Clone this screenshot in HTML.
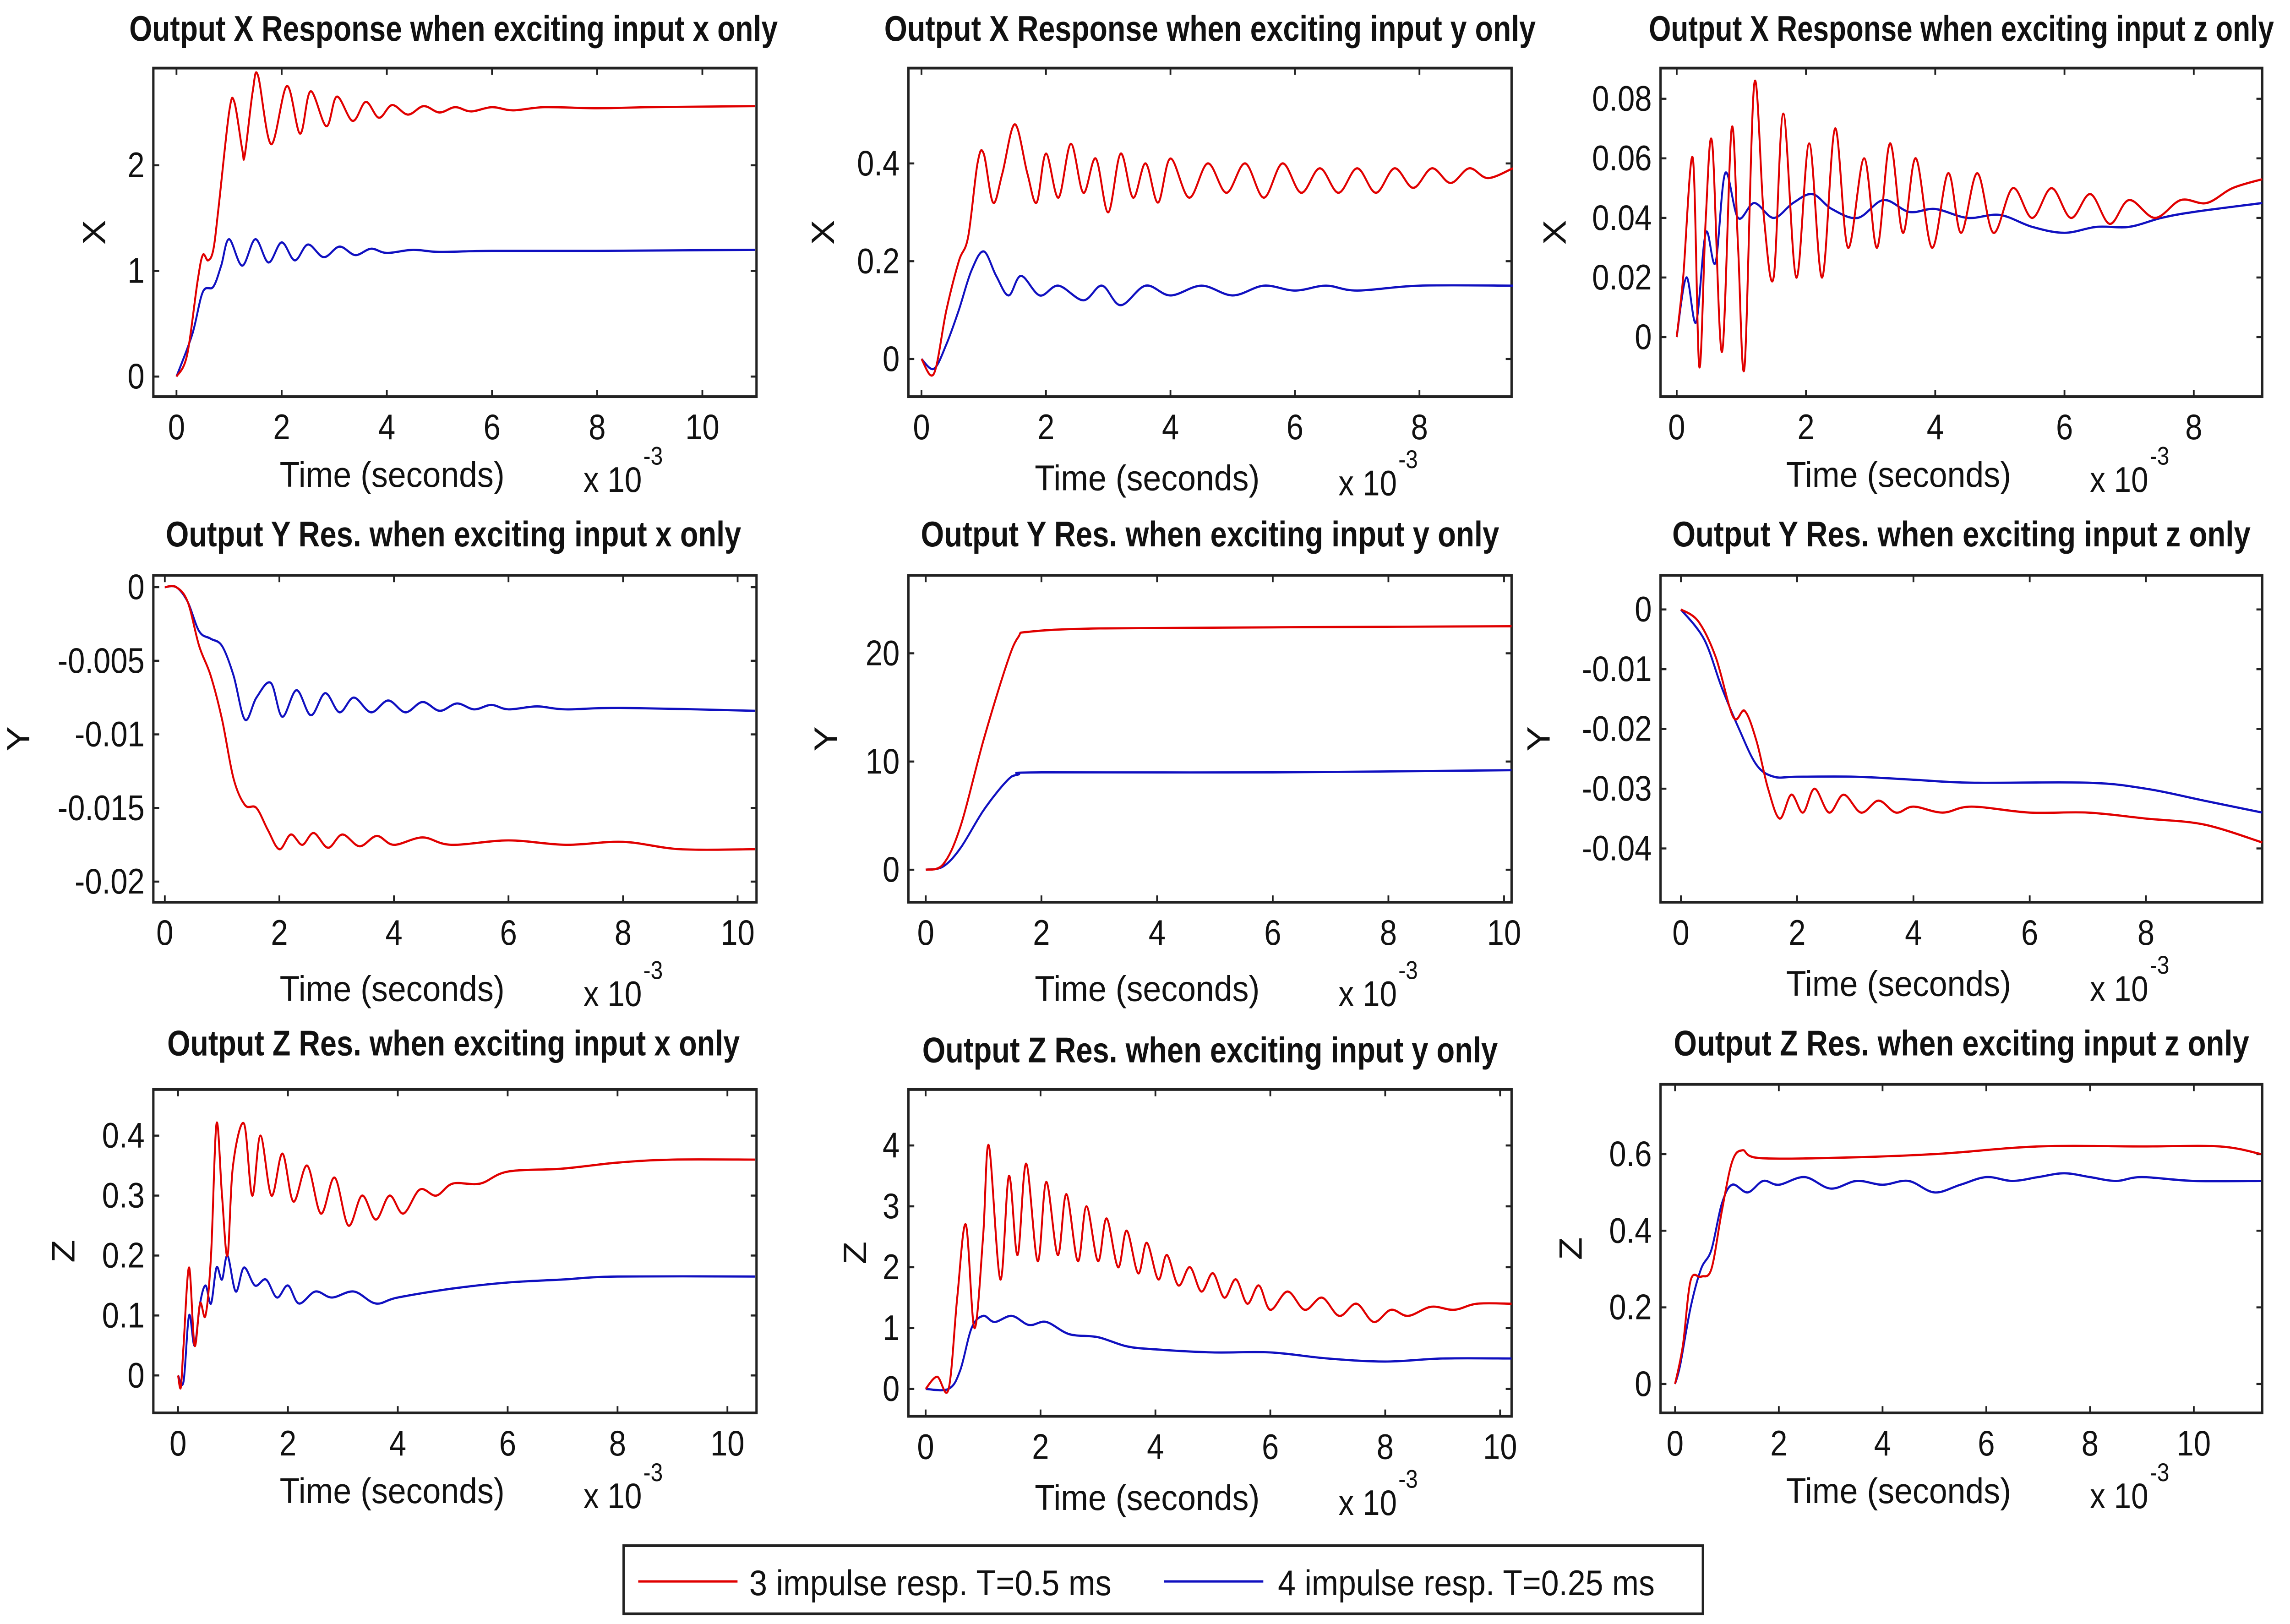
<!DOCTYPE html>
<html><head><meta charset="utf-8"><style>
html,body{margin:0;padding:0;background:#fff;width:100%;height:100%;overflow:hidden;}
svg{display:block;position:fixed;left:0;top:0;width:100vw;height:100vh;}
text{font-family:"Liberation Sans",sans-serif;fill:#111;}
</style></head><body>
<svg id="fig" xmlns="http://www.w3.org/2000/svg" viewBox="0 0 1568 954" preserveAspectRatio="none">
<rect x="0" y="0" width="1568" height="954" fill="#fff"/>
<g id="plots"></g>
<g>
<rect x="427" y="908" width="739" height="40" fill="#fff" stroke="#222" stroke-width="1.6"/>
<line x1="437" y1="929" x2="505" y2="929" stroke="#e00000" stroke-width="1.4"/>
<text x="513" y="937" font-size="21" textLength="248" lengthAdjust="spacingAndGlyphs">3 impulse resp. T=0.5 ms</text>
<line x1="797" y1="929" x2="865" y2="929" stroke="#1010c0" stroke-width="1.4"/>
<text x="875" y="937" font-size="21" textLength="258" lengthAdjust="spacingAndGlyphs">4 impulse resp. T=0.25 ms</text>
</g>
</svg>
<script>
const titles = ["Output X Response when exciting input x only","Output X Response when exciting input y only","Output X Response when exciting input z only",
"Output Y Res. when exciting input  x only","Output Y Res. when exciting input  y only","Output Y Res. when exciting input  z only",
"Output Z Res. when exciting input  x only","Output Z Res. when exciting input  y only","Output Z Res. when exciting input  z only"];
const yLabels = ["X","X","X","Y","Y","Y","Z","Z","Z"];
const xRanges = [[-0.44,11.03],[-0.21,9.48],[-0.25,9.06],[-0.2,10.33],[-0.3,10.13],[-0.35,10.0],[-0.45,10.53],[-0.3,10.2],[-0.28,11.32]];
const yRanges = [[-0.19,2.92],[-0.077,0.595],[-0.02,0.0903],[-0.0214,0.0008],[-3,27.2],[-0.049,0.0057],[-0.0625,0.477],[-0.45,4.92],[-0.0755,0.782]];
const xTicks = [[0,2,4,6,8,10],[0,2,4,6,8],[0,2,4,6,8],[0,2,4,6,8,10],[0,2,4,6,8,10],[0,2,4,6,8],[0,2,4,6,8,10],[0,2,4,6,8,10],[0,2,4,6,8,10]];
const yTicks = [[0,1,2],[0,0.2,0.4],[0,0.02,0.04,0.06,0.08],[-0.02,-0.015,-0.01,-0.005,0],[0,10,20],[-0.04,-0.03,-0.02,-0.01,0],[0,0.1,0.2,0.3,0.4],[0,1,2,3,4],[0,0.2,0.4,0.6]];
const yTickLabels = [["0","1","2"],["0","0.2","0.4"],["0","0.02","0.04","0.06","0.08"],["-0.02","-0.015","-0.01","-0.005","0"],["0","10","20"],["-0.04","-0.03","-0.02","-0.01","0"],["0","0.1","0.2","0.3","0.4"],["0","1","2","3","4"],["0","0.2","0.4","0.6"]];
const red1 = [[0,0],[0.2,0.2],[0.4,0.9],[0.5,1.15],[0.6,1.1],[0.7,1.2],[0.8,1.6],[1.0,2.5],[1.1,2.6],[1.25,2.15],[1.3,2.1],[1.45,2.7],[1.55,2.85],[1.8,2.2],[2.1,2.75],[2.35,2.3],[2.55,2.7],[2.85,2.37],[3.05,2.65],[3.35,2.42],[3.6,2.6],[3.85,2.45],[4.1,2.57],[4.4,2.48],[4.7,2.56],[5,2.5],[5.3,2.55],[5.6,2.51],[6,2.55],[6.4,2.52],[7,2.55],[8,2.54],[9,2.55],[11,2.56]];
const blue1 = [[0,0],[0.3,0.4],[0.5,0.8],[0.7,0.85],[0.85,1.05],[1.0,1.3],[1.25,1.05],[1.5,1.3],[1.75,1.08],[2.0,1.27],[2.25,1.1],[2.5,1.25],[2.8,1.13],[3.1,1.23],[3.4,1.15],[3.7,1.21],[4,1.17],[4.5,1.2],[5,1.18],[6,1.19],[8,1.19],[11,1.2]];
const red2 = [[0,0],[0.2,-0.03],[0.4,0.1],[0.6,0.2],[0.75,0.25],[0.9,0.4],[1.0,0.42],[1.15,0.32],[1.3,0.38],[1.5,0.48],[1.7,0.38],[1.85,0.32],[2.0,0.42],[2.2,0.33],[2.4,0.44],[2.6,0.34],[2.8,0.41],[3.0,0.3],[3.2,0.42],[3.4,0.33],[3.6,0.4],[3.8,0.32],[4.0,0.41],[4.3,0.33],[4.6,0.4],[4.9,0.34],[5.2,0.4],[5.5,0.33],[5.8,0.4],[6.1,0.34],[6.4,0.39],[6.7,0.34],[7,0.39],[7.3,0.34],[7.6,0.39],[7.9,0.35],[8.2,0.39],[8.5,0.36],[8.8,0.39],[9.1,0.37],[9.5,0.39]];
const blue2 = [[0,0],[0.2,-0.02],[0.4,0.03],[0.6,0.1],[0.8,0.18],[1.0,0.22],[1.2,0.17],[1.4,0.13],[1.6,0.17],[1.9,0.13],[2.2,0.15],[2.6,0.12],[2.9,0.15],[3.2,0.11],[3.6,0.15],[4.0,0.13],[4.5,0.15],[5,0.13],[5.5,0.15],[6,0.14],[6.5,0.15],[7,0.14],[8,0.15],[9.5,0.15]];
const red3 = [[0,0],[0.1,0.02],[0.25,0.06],[0.35,-0.01],[0.45,0.04],[0.55,0.065],[0.7,-0.005],[0.85,0.07],[0.95,0.03],[1.05,-0.01],[1.2,0.085],[1.35,0.04],[1.5,0.02],[1.65,0.075],[1.85,0.02],[2.05,0.065],[2.25,0.02],[2.45,0.07],[2.65,0.03],[2.9,0.06],[3.1,0.03],[3.3,0.065],[3.5,0.035],[3.7,0.06],[3.95,0.03],[4.2,0.055],[4.4,0.035],[4.65,0.055],[4.9,0.035],[5.2,0.05],[5.5,0.04],[5.8,0.05],[6.1,0.04],[6.4,0.048],[6.7,0.038],[7,0.046],[7.4,0.04],[7.8,0.046],[8.2,0.045],[8.6,0.05],[9.06,0.053]];
const blue3 = [[0,0],[0.15,0.02],[0.3,0.005],[0.45,0.035],[0.6,0.025],[0.75,0.055],[0.95,0.04],[1.2,0.045],[1.5,0.04],[1.8,0.045],[2.1,0.048],[2.4,0.043],[2.8,0.04],[3.2,0.046],[3.6,0.042],[4,0.043],[4.5,0.04],[5,0.041],[5.5,0.037],[6,0.035],[6.5,0.037],[7,0.037],[7.5,0.04],[8,0.042],[9.06,0.045]];
const red4 = [[0,0],[0.2,0],[0.4,-0.001],[0.6,-0.004],[0.8,-0.006],[1.0,-0.009],[1.2,-0.013],[1.4,-0.0148],[1.6,-0.015],[1.8,-0.0165],[2.0,-0.0178],[2.2,-0.0168],[2.4,-0.0175],[2.6,-0.0167],[2.85,-0.0177],[3.1,-0.0168],[3.4,-0.0176],[3.7,-0.0169],[4,-0.0175],[4.5,-0.017],[5,-0.0175],[6,-0.0172],[7,-0.0175],[8,-0.0173],[9,-0.0178],[10.3,-0.0178]];
const blue4 = [[0,0],[0.2,0],[0.4,-0.001],[0.6,-0.003],[0.8,-0.0035],[1.0,-0.004],[1.2,-0.006],[1.4,-0.009],[1.6,-0.0075],[1.85,-0.0065],[2.05,-0.0088],[2.3,-0.007],[2.55,-0.0087],[2.8,-0.0072],[3.05,-0.0085],[3.3,-0.0075],[3.6,-0.0085],[3.9,-0.0077],[4.2,-0.0085],[4.5,-0.0078],[4.8,-0.0084],[5.1,-0.0079],[5.4,-0.0083],[5.7,-0.008],[6,-0.0083],[6.5,-0.0081],[7,-0.0083],[8,-0.0082],[10.3,-0.0084]];
const red5 = [[0,0],[0.3,0.5],[0.6,4],[1.0,12],[1.4,19],[1.6,21.5],[1.8,22],[3,22.3],[6,22.4],[10.13,22.5]];
const blue5 = [[0,0],[0.3,0.3],[0.6,2],[1.0,5.5],[1.4,8.2],[1.6,8.8],[2,9],[6,9],[10.13,9.2]];
const red6 = [[0,0],[0.3,-0.002],[0.6,-0.008],[0.9,-0.018],[1.1,-0.017],[1.3,-0.022],[1.5,-0.03],[1.7,-0.035],[1.9,-0.031],[2.1,-0.034],[2.3,-0.03],[2.55,-0.034],[2.8,-0.031],[3.1,-0.034],[3.4,-0.032],[3.7,-0.034],[4,-0.033],[4.5,-0.034],[5,-0.033],[6,-0.034],[7,-0.034],[8,-0.035],[9,-0.036],[10,-0.039]];
const blue6 = [[0,0],[0.4,-0.005],[0.7,-0.013],[1.0,-0.02],[1.3,-0.026],[1.6,-0.028],[2,-0.028],[3,-0.028],[4,-0.0285],[5,-0.029],[7,-0.029],[8,-0.03],[9,-0.032],[10,-0.034]];
const red7 = [[0,0],[0.05,-0.02],[0.1,0.05],[0.2,0.18],[0.3,0.05],[0.4,0.12],[0.5,0.1],[0.6,0.2],[0.7,0.42],[0.8,0.3],[0.9,0.2],[1.0,0.35],[1.2,0.42],[1.35,0.3],[1.5,0.4],[1.7,0.3],[1.9,0.37],[2.1,0.29],[2.35,0.35],[2.6,0.27],[2.85,0.33],[3.1,0.25],[3.35,0.3],[3.6,0.26],[3.85,0.3],[4.1,0.27],[4.4,0.31],[4.7,0.3],[5,0.32],[5.5,0.32],[6,0.34],[7,0.345],[8,0.355],[9,0.36],[10.5,0.36]];
const blue7 = [[0,0],[0.1,-0.01],[0.2,0.1],[0.3,0.05],[0.4,0.12],[0.5,0.15],[0.6,0.12],[0.7,0.18],[0.8,0.16],[0.9,0.2],[1.05,0.14],[1.2,0.18],[1.4,0.15],[1.6,0.16],[1.8,0.13],[2.0,0.15],[2.2,0.12],[2.5,0.14],[2.8,0.13],[3.2,0.14],[3.6,0.12],[4,0.13],[5,0.145],[6,0.155],[7,0.16],[8,0.165],[10.5,0.165]];
const red8 = [[0,0],[0.2,0.2],[0.4,0],[0.55,1.5],[0.7,2.7],[0.85,1],[1.0,2.5],[1.1,4],[1.3,1.8],[1.45,3.5],[1.6,2.2],[1.75,3.7],[1.95,2.1],[2.1,3.4],[2.3,2.2],[2.45,3.2],[2.65,2.1],[2.8,3],[3.0,2.1],[3.15,2.8],[3.35,2],[3.5,2.6],[3.7,1.9],[3.85,2.4],[4.05,1.8],[4.2,2.2],[4.4,1.7],[4.6,2.0],[4.8,1.6],[5,1.9],[5.2,1.5],[5.4,1.8],[5.6,1.4],[5.8,1.7],[6,1.3],[6.3,1.6],[6.6,1.3],[6.9,1.5],[7.2,1.2],[7.5,1.4],[7.8,1.1],[8.1,1.3],[8.4,1.2],[8.8,1.35],[9.2,1.3],[9.6,1.4],[10.2,1.4]];
const blue8 = [[0,0],[0.4,0],[0.6,0.3],[0.8,1.0],[1.0,1.2],[1.2,1.1],[1.5,1.2],[1.8,1.05],[2.1,1.1],[2.5,0.9],[3,0.85],[3.5,0.7],[4,0.65],[5,0.6],[6,0.6],[7,0.5],[8,0.45],[9,0.5],[10.2,0.5]];
const red9 = [[0,0],[0.15,0.1],[0.3,0.27],[0.5,0.28],[0.7,0.3],[0.9,0.45],[1.1,0.58],[1.3,0.61],[1.6,0.59],[3,0.59],[5,0.6],[7,0.62],[9,0.62],[10.5,0.62],[11.3,0.6]];
const blue9 = [[0,0],[0.1,0.05],[0.3,0.2],[0.5,0.3],[0.7,0.35],[0.9,0.47],[1.1,0.52],[1.4,0.5],[1.7,0.53],[2,0.52],[2.5,0.54],[3,0.51],[3.5,0.53],[4,0.52],[4.5,0.53],[5,0.5],[5.5,0.52],[6,0.54],[6.5,0.53],[7,0.54],[7.5,0.55],[8,0.54],[8.5,0.53],[9,0.54],[10,0.53],[11.3,0.53]];
const redSeries = [red1,red2,red3,red4,red5,red6,red7,red8,red9];
const blueSeries = [blue1,blue2,blue3,blue4,blue5,blue6,blue7,blue8,blue9];

const boxes = [[105,40,518,233],[622,40,1035,233],[1137,40,1549,233],[105,338,518,530],[622,338,1035,530],[1137,338,1549,530],[105,640,518,830],[622,640,1035,832],[1137,637,1549,830]];
const titleY = [17,17,17,314,314,314,613,617,613];
const titleW = [444,446,428,394,396,396,392,394,394];
const xlabY = [279,281,279,581,581,578,876,880,876];
const ylabX = [64,563,1064,12,565,1053,43,585,1075];
const NS = "http://www.w3.org/2000/svg";
const root = document.getElementById('plots');
function mk(tag, attrs, parent){const e=document.createElementNS(NS,tag);for(const k in attrs)e.setAttribute(k,attrs[k]);parent.appendChild(e);return e;}
function smooth(pts){
  let d='M'+pts[0][0].toFixed(2)+','+pts[0][1].toFixed(2);
  for(let k=0;k<pts.length-1;k++){
    const p0=pts[Math.max(0,k-1)],p1=pts[k],p2=pts[k+1],p3=pts[Math.min(pts.length-1,k+2)];
    const c1=[p1[0]+(p2[0]-p0[0])/6,p1[1]+(p2[1]-p0[1])/6];
    const c2=[p2[0]-(p3[0]-p1[0])/6,p2[1]-(p3[1]-p1[1])/6];
    d+=' C'+c1[0].toFixed(2)+','+c1[1].toFixed(2)+' '+c2[0].toFixed(2)+','+c2[1].toFixed(2)+' '+p2[0].toFixed(2)+','+p2[1].toFixed(2);
  }
  return d;
}
for(let i=0;i<9;i++){
  const [x0,y0,x1,y1]=boxes[i];
  const xr=xRanges[i], yr=yRanges[i];
  const sx=v=>x0+(v-xr[0])/(xr[1]-xr[0])*(x1-x0);
  const sy=v=>y1-(v-yr[0])/(yr[1]-yr[0])*(y1-y0);
  const g=mk('g',{},root);
  
  
  const cx=(x0+x1)/2;
  const t=mk('text',{x:cx-titleW[i]/2+(i%3===0?-1:0),y:titleY[i]+7,'font-size':21,'font-weight':'bold',textLength:titleW[i],lengthAdjust:'spacingAndGlyphs'},g);
  t.textContent=titles[i];
  
  
  const r=mk('rect',{x:x0,y:y0,width:x1-x0,height:y1-y0,fill:'#fff',stroke:'#222','stroke-width':1.6},g);
  
  
  xTicks[i].forEach(v=>{
    const X=sx(v);
    const a=mk('line',{x1:X,y1:y1,x2:X,y2:y1-4,stroke:'#222','stroke-width':1.2},g);
    
    
    const b=mk('line',{x1:X,y1:y0,x2:X,y2:y0+4,stroke:'#222','stroke-width':1.2},g);
    
    
    const l=mk('text',{x:X,y:y1+25,'font-size':21,'text-anchor':'middle'},g);
    l.textContent=String(v);
    
    
  });
  yTicks[i].forEach((v,j)=>{
    const Y=sy(v);
    const a=mk('line',{x1:x0,y1:Y,x2:x0+4,y2:Y,stroke:'#222','stroke-width':1.2},g);
    
    
    const b=mk('line',{x1:x1,y1:Y,x2:x1-4,y2:Y,stroke:'#222','stroke-width':1.2},g);
    
    
    const l=mk('text',{x:x0-6,y:Y+7,'font-size':21,'text-anchor':'end'},g);
    l.textContent=yTickLabels[i][j];
    
    
  });
  const yl=mk('text',{x:0,y:0,'font-size':22,'text-anchor':'middle',transform:`translate(${ylabX[i]+8},${(y0+y1)/2}) rotate(-90)`},g);
  yl.textContent=yLabels[i];
  
  
  const xl=mk('text',{x:cx-120,y:xlabY[i]+7,'font-size':21,textLength:154,lengthAdjust:'spacingAndGlyphs'},g);
  xl.textContent='Time (seconds)';
  
  
  const ex=mk('text',{x:cx+88,y:xlabY[i]+10,'font-size':21,textLength:40,lengthAdjust:'spacingAndGlyphs'},g);
  ex.textContent='x 10';
  
  
  const ex2=mk('text',{x:cx+129,y:xlabY[i]-6,'font-size':15},g);
  ex2.textContent='-3';
  
  
  [[blueSeries[i],'#1010c0','blue'],[redSeries[i],'#e00000','red']].forEach(([d,c,n])=>{
    const pts=d.map(q=>[sx(q[0]),sy(q[1])]);
    const p=mk('path',{d:smooth(pts),fill:'none',stroke:c,'stroke-width':1.3},g);
    
    
  });
}
</script>
</body></html>
